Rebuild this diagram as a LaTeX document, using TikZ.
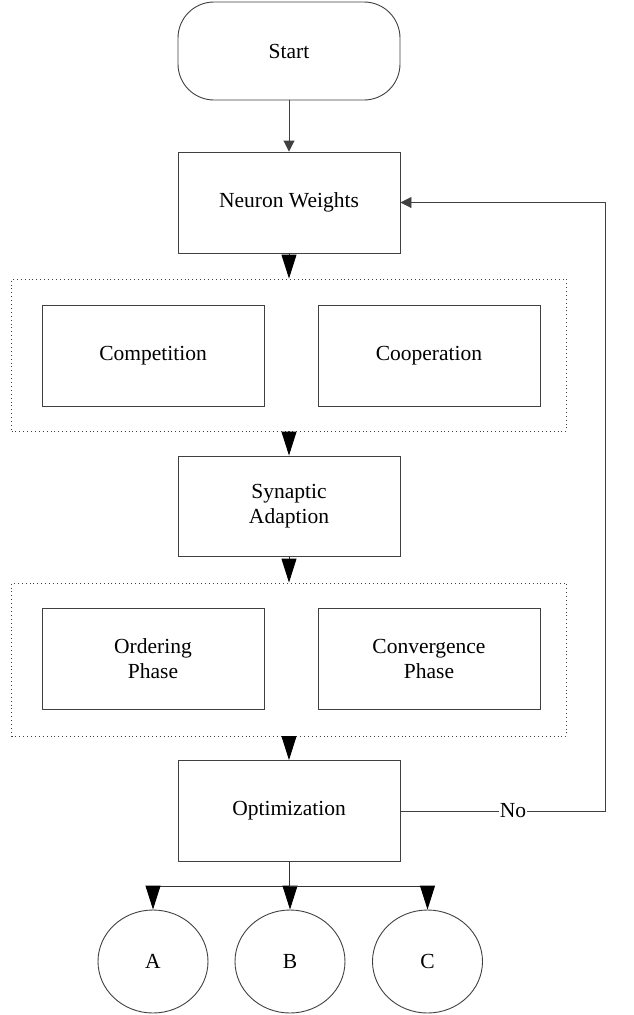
\documentclass[tikz,border=0pt]{standalone}
\usepackage{fontspec}
\setmainfont{Liberation Serif}
\usetikzlibrary{arrows.meta, shapes.geometric}

\tikzset{
	txt/.style={font=\fontsize{21.5}{25}\selectfont},
	term/.style={txt, draw=black!75, line width=0.9pt, rounded corners=36pt, minimum width=222pt, minimum height=98pt, inner sep=0pt},
	stepbox/.style={txt, draw=black!75, line width=0.9pt, minimum width=222pt, minimum height=101pt, inner sep=0pt, align=center},
	grp/.style={draw=black!75, line width=0.9pt, dash pattern=on 0.9pt off 3pt, minimum width=555pt, minimum height=152pt, inner sep=0pt},
	leaf/.style={txt, ellipse, draw=black!75, line width=0.9pt, minimum width=110pt, minimum height=103pt, inner sep=0pt},
	bigarrow/.style={draw=black!80, line width=0.9pt, -{Triangle[length=24pt, width=15pt, black]}},
	smallarrow/.style={draw=black!75, line width=0.9pt, -{Triangle[length=11pt, width=11pt]}}
}

\begin{document}
\begin{tikzpicture}[x=1pt, y=1pt]

	\useasboundingbox (0,0) rectangle (633,-1015);

	\node[term] (start) at (289,-51) {Start};
	\node[stepbox] (nw) at (289,-202.5) {Neuron Weights};

	\node[grp] (g1) at (289,-355) {};
	\node[stepbox] (comp) at (153,-355.5) {Competition};
	\node[stepbox] (coop) at (429,-355.5) {Cooperation};

	\node[stepbox, minimum height=100pt] (syn) at (289,-506) {Synaptic\\Adaption};

	\node[grp, minimum height=153pt] (g2) at (289,-659.5) {};
	\node[stepbox] (ord) at (153,-659) {Ordering\\Phase};
	\node[stepbox] (conv) at (429,-659) {Convergence\\Phase};

	\node[stepbox] (opt) at (289,-811) {Optimization};

	\node[leaf] (a) at (153,-961.5) {A};
	\node[leaf] (b) at (290,-961.5) {B};
	\node[leaf] (c) at (427.5,-961.5) {C};

	\coordinate (back) at (605,-811);
	\coordinate (split) at (289,-886);

	\draw[smallarrow] (start) -- (nw);
	\draw[bigarrow] (nw) -- (g1);
	\draw[bigarrow] (g1) -- (syn);
	\draw[bigarrow] (syn) -- (g2);
	\draw[bigarrow] (g2) -- (opt);

	\draw[smallarrow] (opt.east) -- node[txt, pos=0.55, fill=white, inner sep=1pt] {No} (back) -- (back |- nw.east) -- (nw.east);

	\draw[draw=black!80, line width=0.9pt] (opt) -- (split);
	\draw[bigarrow] (split) -| (a.north);
	\draw[bigarrow] (split) -| (b.north);
	\draw[bigarrow] (split) -| (c.north);

\end{tikzpicture}
\end{document}
